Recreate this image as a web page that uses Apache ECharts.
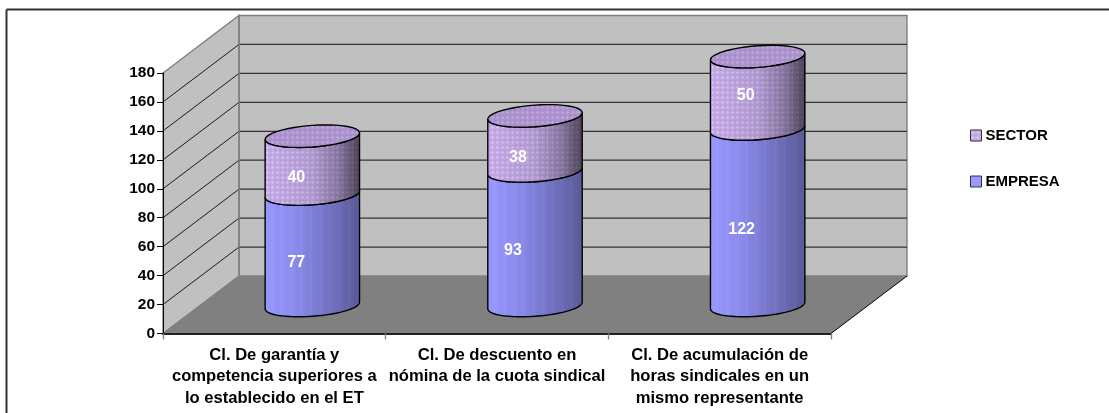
<!DOCTYPE html>
<html><head><meta charset="utf-8">
<style>html,body{margin:0;padding:0;background:#fff}#c{width:1109px;height:413px}</style>
<script src="https://cdn.jsdelivr.net/npm/echarts@6/dist/echarts.min.js"></script>
</head><body><div id="c"></div>
<script>
var categories = ['Cl. De garantía y\ncompetencia superiores a\nlo establecido en el ET',
  'Cl. De descuento en\nnómina de la cuota sindical',
  'Cl. De acumulación de\nhoras sindicales en un\nmismo representante'];
var empresa = [77, 93, 122];
var sector = [40, 38, 50];
var yMax = 180, yStep = 20;

// drawing constants
var DX = 76, DY = -57.5, FONT = '"Liberation Sans", Arial, sans-serif';
var BAR_A = 47.2, BAR_B = 10.8, BAR_S = 3.3;
var labelNudgeEmpresa = [[-16, 13], [-22, 12], [-16, 12]];
var labelNudgeSector = [[-16, 12], [-17, 14], [-12, 3]];

function makePattern() {
  var c = document.createElement('canvas'); c.width = 5; c.height = 5;
  var g = c.getContext('2d');
  g.fillStyle = '#c5aae9'; g.fillRect(0, 0, 5, 5);
  g.fillStyle = '#d8c5f2';
  g.fillRect(2, 1, 1, 3); g.fillRect(1, 2, 3, 1);
  g.fillStyle = '#b297d6';
  g.fillRect(0, 0, 1, 1);
  return c;
}
var patternFill = { image: makePattern(), repeat: 'repeat' };

function ellipsePt(cx, cy, t) {
  return [cx + BAR_A * Math.cos(t), cy - BAR_S * Math.cos(t) + BAR_B * Math.sin(t)];
}
function arc(cx, cy, from, to) {
  var pts = [], n = 48;
  for (var i = 0; i <= n; i++) pts.push(ellipsePt(cx, cy, from + (to - from) * i / n));
  return pts;
}
function bandGradient(stops, streak) {
  // cylinder shading in narrow vertical bands
  var cs = [], n = 30;
  function mix(p) {
    for (var k = 1; k < stops.length; k++) if (p <= stops[k][0]) {
      var a = stops[k - 1], b = stops[k], f = (p - a[0]) / (b[0] - a[0]), out = [];
      for (var j = 0; j < 4; j++) out.push(a[1][j] + (b[1][j] - a[1][j]) * f);
      return out;
    }
    return stops[stops.length - 1][1];
  }
  for (var i = 0; i < n; i++) {
    var p0 = i / n, p1 = (i + 1) / n, c = mix(p0 + 0.5 / n), d = (i % 3 === 2 ? streak : 0);
    var col = 'rgba(' + Math.round(c[0] + d) + ',' + Math.round(c[1] + d) + ',' + Math.round(c[2] + d) + ',' + c[3] + ')';
    cs.push({ offset: p0, color: col }, { offset: p1, color: col });
  }
  return { type: 'linear', x: 0, y: 0, x2: 1, y2: 0, colorStops: cs };
}
var blueShade = bandGradient([[0, [152, 152, 255, 1]], [0.35, [136, 136, 232, 1]], [0.7, [112, 112, 190, 1]], [1, [88, 88, 150, 1]]], 4);
var darkShade = bandGradient([[0, [0, 0, 0, 0]], [0.5, [0, 0, 0, 0.1]], [0.78, [0, 0, 0, 0.32]], [1, [0, 0, 0, 0.62]]], 0);

function renderWalls(params, api) {
  var r = params.coordSys, x0 = r.x, x1 = r.x + r.width;
  var y0 = api.coord([0, 0])[1], yT = api.coord([0, yMax])[1];
  var kids = [];
  function poly(pts, fill, stroke, lw) {
    kids.push({ type: 'polygon', shape: { points: pts }, style: { fill: fill, stroke: stroke, lineWidth: lw || 1 }, silent: true });
  }
  function line(a, b, col, lw) {
    kids.push({ type: 'line', shape: { x1: a[0], y1: a[1], x2: b[0], y2: b[1] }, style: { stroke: col, lineWidth: lw || 1 }, silent: true });
  }
  poly([[x0 + DX, y0 + DY], [x1 + DX, y0 + DY], [x1 + DX, yT + DY], [x0 + DX, yT + DY]], '#c0c0c0', '#808080', 1.4);
  poly([[x0, y0], [x0 + DX, y0 + DY], [x0 + DX, yT + DY], [x0, yT]], '#c0c0c0', '#808080', 1.4);
  poly([[x0, y0], [x1, y0], [x1 + DX, y0 + DY], [x0 + DX, y0 + DY]], '#808080', null);
  for (var v = yStep; v < yMax; v += yStep) {
    var y = api.coord([0, v])[1];
    line([x0, y], [x0 + DX, y + DY], '#1a1a1a', 1);
    line([x0 + DX, y + DY], [x1 + DX, y + DY], '#333', 1.2);
  }
  line([x0 + DX, y0 + DY], [x0 + DX, yT + DY], '#808080', 1.4);
  line([x1, y0], [x1 + DX, y0 + DY], '#000', 1);
  line([x0, y0], [x0 + DX, y0 + DY], '#808080', 1);
  return { type: 'group', children: kids };
}
function cylinder(params, api, baseVal, topVal, nudge, isTop) {
  var i = api.value(0);
  var f = api.coord([i, 0]);
  var cx = f[0] + DX / 2;
  var yb = api.coord([i, baseVal])[1] + DY / 2 + 0.75;
  var yt = api.coord([i, topVal])[1] + DY / 2 + 0.75;
  var ym = (yb + yt) / 2;
  var side = arc(cx, yb, Math.PI, 0).concat(arc(cx, yt, 0, Math.PI));
  var kids = [];
  if (isTop) {
    kids.push({ type: 'polygon', shape: { points: side }, style: { fill: patternFill }, silent: true });
    kids.push({ type: 'polygon', shape: { points: side }, style: { fill: darkShade, stroke: '#000', lineWidth: 1.4 }, silent: true });
    var lid = arc(cx, yt, 0, Math.PI * 2);
    kids.push({ type: 'polygon', shape: { points: lid }, style: { fill: patternFill }, silent: true });
    kids.push({ type: 'polygon', shape: { points: lid }, style: { fill: 'rgba(60,30,90,0.17)', stroke: '#000', lineWidth: 1.4 }, silent: true });
  } else {
    kids.push({ type: 'polygon', shape: { points: side }, style: { fill: blueShade, stroke: '#000', lineWidth: 1.4 }, silent: true });
  }
  kids.push({ type: 'text', silent: true, style: {
    x: cx + nudge[0], y: ym + nudge[1], text: String(topVal - baseVal), fill: '#fff',
    font: 'bold 16px ' + FONT, align: 'center', verticalAlign: 'middle' } });
  return { type: 'group', children: kids };
}

var chart = echarts.init(document.getElementById('c'), null, { renderer: 'canvas' });
var idx = categories.map(function (_, i) { return i; });
chart.setOption({
  animation: false,
  backgroundColor: '#fff',
  grid: { left: 163, top: 73, width: 668, height: 260.5, containLabel: false },
  xAxis: { type: 'category', data: categories, boundaryGap: true, z: 5,
    axisLine: { show: true, lineStyle: { color: '#222', width: 2 } },
    axisTick: { show: true, length: 6, lineStyle: { color: '#808080', width: 1.4 }, alignWithLabel: false },
    axisLabel: { interval: 0, color: '#000', fontFamily: FONT, fontWeight: 'bold', fontSize: 16.6, lineHeight: 21.5, margin: 11 },
    splitLine: { show: false } },
  yAxis: { type: 'value', min: 0, max: yMax, interval: yStep, z: 5,
    axisLine: { show: true, lineStyle: { color: '#000', width: 1 } },
    axisTick: { show: true, length: 6, lineStyle: { color: '#000', width: 1 } },
    axisLabel: { color: '#000', fontFamily: FONT, fontWeight: 'bold', fontSize: 15.5, margin: 8 },
    splitLine: { show: false } },
  legend: { orient: 'vertical', left: 965, top: 123, itemWidth: 11, itemHeight: 11, itemGap: 31, selectedMode: false,
    textStyle: { color: '#000', fontFamily: FONT, fontWeight: 'bold', fontSize: 15, padding: [0, 0, 0, -1] },
    data: [
      { name: 'SECTOR', icon: 'rect', itemStyle: { color: patternFill, borderColor: '#333', borderWidth: 1 } },
      { name: 'EMPRESA', icon: 'rect', itemStyle: { color: '#9999ff', borderColor: '#333', borderWidth: 1 } }
    ] },
  graphic: [
    { type: 'line', silent: true, z: 0, shape: { x1: 6.5, y1: 9.5, x2: 1109, y2: 9.5 }, style: { stroke: '#333', lineWidth: 2 } },
    { type: 'line', silent: true, z: 0, shape: { x1: 6.5, y1: 9.5, x2: 6.5, y2: 413 }, style: { stroke: '#333', lineWidth: 2 } }
  ],
  series: [
    { type: 'custom', name: 'walls', z: 1, silent: true, clip: false, data: [[0, 0]], renderItem: renderWalls },
    { type: 'custom', name: 'EMPRESA', z: 2, silent: true, clip: false, itemStyle: { color: '#9999ff' },
      encode: { x: 0, y: 1 }, data: idx.map(function (i) { return [i, empresa[i]]; }),
      renderItem: function (p, api) { return cylinder(p, api, 0, api.value(1), labelNudgeEmpresa[p.dataIndex], false); } },
    { type: 'custom', name: 'SECTOR', z: 3, silent: true, clip: false, itemStyle: { color: '#cc99ff' },
      encode: { x: 0, y: 2 }, data: idx.map(function (i) { return [i, empresa[i], empresa[i] + sector[i]]; }),
      renderItem: function (p, api) { return cylinder(p, api, api.value(1), api.value(2), labelNudgeSector[p.dataIndex], true); } }
  ]
});
</script></body></html>
